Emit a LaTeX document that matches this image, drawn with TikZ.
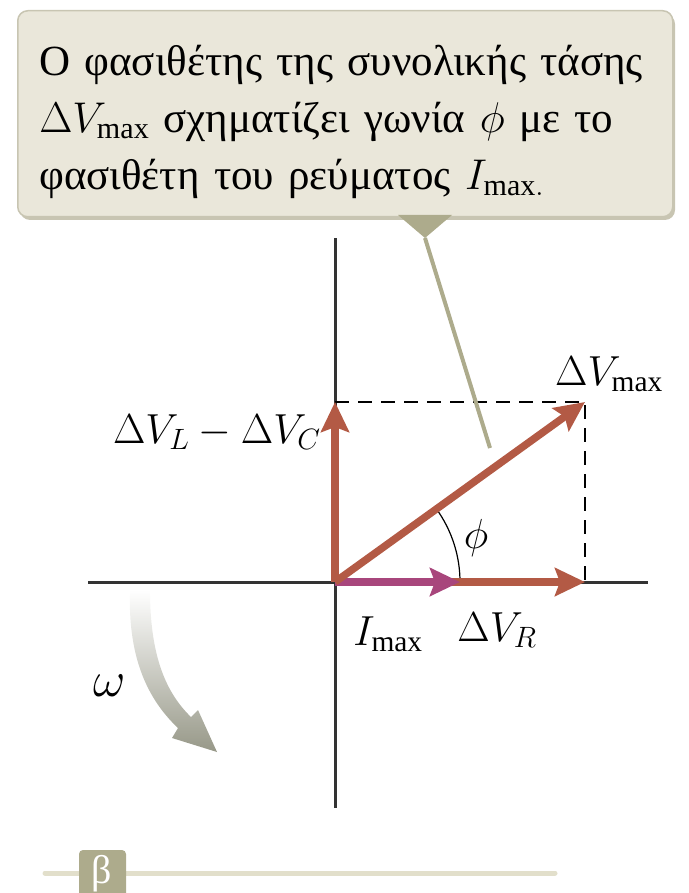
\documentclass[tikz,border=0pt]{standalone}
\usepackage{fix-cm}
\usepackage{fontspec}
\setmainfont{Liberation Serif}
\usetikzlibrary{arrows.meta, positioning}
\definecolor{boxfill}{HTML}{EAE7DA}
\definecolor{boxedge}{HTML}{C8C5B2}
\definecolor{olive}{HTML}{ADAB8C}
\definecolor{vecred}{HTML}{B35A45}
\definecolor{vecpink}{HTML}{A8467C}
\definecolor{axisgray}{HTML}{333333}
\definecolor{omegagray}{HTML}{979888}
\definecolor{rulefill}{HTML}{E2DFCB}

\begin{document}
\begin{tikzpicture}[x=1pt, y=-1pt,
		vec/.style={line width=7.5pt, -{Stealth[length=30pt, width=28pt, inset=5pt]}},
		axis/.style={line width=3pt, draw=axisgray},
		lbl/.style={font=\fontsize{42}{48}\selectfont}]
		\useasboundingbox (0, 0) rectangle (688, 893);
		% callout
		\fill[boxedge, rounded corners=10pt] (20, 14) rectangle (675, 220);
		\node[draw=boxedge, line width=1.5pt, fill=boxfill, rounded corners=10pt,
			anchor=north west, minimum width=655pt, minimum height=206pt,
			text width=612pt, align=left, inner sep=0pt,
			font=\fontsize{43}{57}\selectfont] (note) at (17, 10)
			{\rule{0pt}{46pt}Ο φασιθέτης της συνολικής τάσης\\
			$\Delta V_{\mathrm{max}}$ σχηματίζει γωνία $\phi$ με το\\
			φασιθέτη του ρεύματος $I_{\mathrm{max}.}$};
		\coordinate (tip) at (425, 238);
		\coordinate (aim) at (490, 448);
		\fill[olive] (398, 215) -- (452, 215) -- (tip) -- cycle;
		% axes
		\coordinate (O) at (335, 582);
		\coordinate (top) at (335, 238);
		\coordinate (bot) at (335, 808);
		\coordinate (left) at (88, 582);
		\coordinate (right) at (648, 582);
		\coordinate (VLC) at (335, 402);
		\coordinate (Vmax) at (585, 402);
		\coordinate (VR) at (585, 582);
		\coordinate (Imax) at (460, 582);
		\draw[axis] (top) -- (bot);
		\draw[axis] (left) -- (right);
		\draw[line width=1.8pt, dash pattern=on 14pt off 9pt] (VLC) -- (Vmax) -- (VR);
		\draw[line width=1.2pt] (Imax) arc[start angle=0, end angle=-36, radius=125];
		\draw[olive, line width=4pt] (tip) -- (aim);
		% phasors
		\draw[vec, vecred] (O) -- (VR);
		\draw[vec, vecpink] (O) -- (Imax);
		\draw[vec, vecred] (O) -- (Vmax);
		\draw[vec, vecred] (O) -- (VLC);
		% labels
		\node[lbl] (lmax) at (609, 374) {$\Delta V_{\mathrm{max}}$};
		\node[lbl, anchor=east] (llc) at (324, 432) {$\Delta V_L - \Delta V_C$};
		\node[lbl] (lphi) at (476, 538) {$\phi$};
		\node[lbl] (limax) at (388, 634) {$I_{\mathrm{max}}$};
		\node[lbl] (lvr) at (497, 630) {$\Delta V_R$};
		\node[lbl, font=\fontsize{50}{56}\selectfont] (lomega) at (110, 686) {$\omega$};
		% rotation
		\shade[top color=white, bottom color=omegagray]
			(130, 590) .. controls (128, 650) and (143, 695) .. (178, 728)
			-- (172, 738) -- (217, 752) -- (198, 710) -- (191, 717)
			.. controls (163, 690) and (150, 650) .. (150, 590) -- cycle;
		% panel tag
		\draw[rulefill, line width=5pt, line cap=round] (45, 873) -- (555, 873);
		\fill[olive, rounded corners=4pt] (79, 893) -- (79, 850) -- (126, 850) -- (126, 893);
		\node[white, font=\fontsize{40}{44}\selectfont] (tag) at (102, 874) {β};
	\end{tikzpicture}
\end{document}
